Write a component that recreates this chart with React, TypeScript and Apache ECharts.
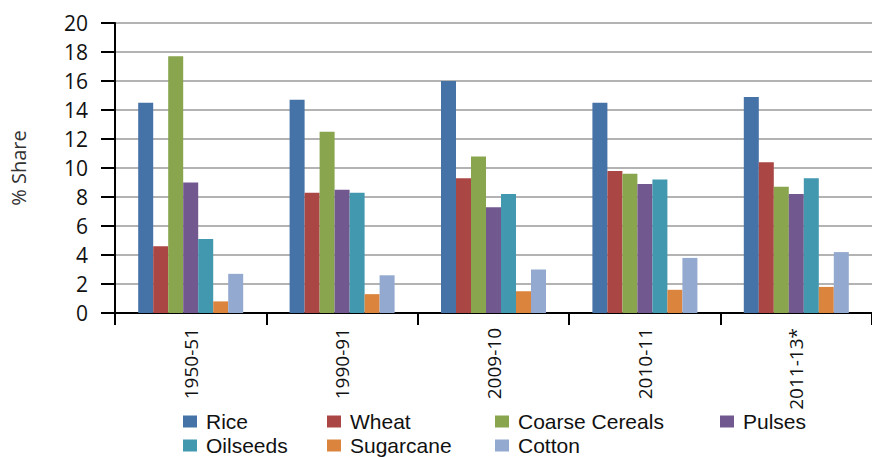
import React, { useEffect, useRef } from "react";
import * as echarts from "echarts";

const categories = ["1950-51", "1990-91", "2009-10", "2010-11", "2011-13*"];
const seriesNames = ["Rice", "Wheat", "Coarse Cereals", "Pulses", "Oilseeds", "Sugarcane", "Cotton"];
const rice = [14.5, 14.7, 16.0, 14.5, 14.9];
const wheat = [4.6, 8.3, 9.3, 9.8, 10.4];
const coarseCereals = [17.7, 12.5, 10.8, 9.6, 8.7];
const pulses = [9.0, 8.5, 7.3, 8.9, 8.2];
const oilseeds = [5.1, 8.3, 8.2, 9.2, 9.3];
const sugarcane = [0.8, 1.3, 1.5, 1.6, 1.8];
const cotton = [2.7, 2.6, 3.0, 3.8, 4.2];
const yTicks = [0, 2, 4, 6, 8, 10, 12, 14, 16, 18, 20];

const seriesValues = [rice, wheat, coarseCereals, pulses, oilseeds, sugarcane, cotton];
const colors = ["#4572A7", "#AA4643", "#89A54E", "#71588F", "#4198AF", "#DB843D", "#93A9CF"];

const FONT = "'Open Sans', 'Noto Sans', sans-serif";
const LEGEND_FONT = "'Liberation Sans', Arial, sans-serif";

export default function App() {
  const ref = useRef<HTMLDivElement>(null);
  useEffect(() => {
    if (!ref.current) return;
    const chart = echarts.init(ref.current, undefined, { renderer: "svg" });
    const legendPos: [number, number][] = [
      [183, 410],
      [327, 410],
      [495, 410],
      [720, 410],
      [183, 434],
      [327, 434],
      [495, 434],
    ];
    chart.setOption({
      animation: false,
      backgroundColor: "#ffffff",
      textStyle: { fontFamily: FONT },
      grid: { left: 115, top: 23, bottom: 144, right: -10, containLabel: false },
      legend: seriesNames.map((n, i) => ({
        data: [n],
        left: legendPos[i][0],
        top: legendPos[i][1],
        padding: 0,
        itemWidth: 14,
        itemHeight: 12,
        itemGap: 0,
        icon: "rect",
        selectedMode: false,
        textStyle: { fontSize: 21, lineHeight: 23, color: "#111", fontFamily: LEGEND_FONT, padding: [0, 0, 0, 4] },
      })),
      xAxis: {
        type: "category",
        data: categories,
        boundaryGap: true,
        axisLine: { lineStyle: { color: "#000", width: 2 } },
        axisTick: { show: true, length: 12, lineStyle: { color: "#000", width: 2 }, alignWithLabel: false },
        axisLabel: {
          rotate: 90,
          fontSize: 19,
          color: "#111",
          fontFamily: FONT,
          margin: 15,
        },
        splitLine: { show: false },
      },
      yAxis: {
        type: "value",
        min: 0,
        max: 20,
        interval: 2,
        name: "% Share",
        nameLocation: "middle",
        nameGap: 87,
        nameRotate: 90,
        nameTextStyle: { fontSize: 20, color: "#333", fontFamily: FONT },
        axisLine: { show: true, lineStyle: { color: "#000", width: 2 } },
        axisTick: { show: true, length: 14, lineStyle: { color: "#000", width: 2 } },
        axisLabel: {
          fontSize: 21,
          color: "#111",
          fontFamily: FONT,
          margin: 27,
          formatter: (v: number) => (yTicks.includes(v) ? String(v) : ""),
        },
        splitLine: { show: true, lineStyle: { color: "#9a9a9a", width: 1.5 } },
      },
      series: seriesNames.map((n, i) => ({
        name: n,
        type: "bar",
        data: seriesValues[i],
        barWidth: 15,
        barGap: "0%",
        itemStyle: { color: colors[i] },
      })),
    });
    return () => chart.dispose();
  }, []);
  return <div ref={ref} style={{ width: 872, height: 457, position: "absolute", left: 0, top: 0 }} />;
}
